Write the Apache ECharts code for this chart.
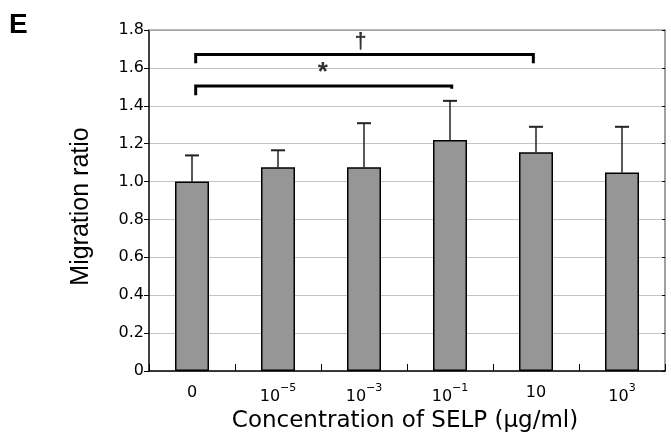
<!DOCTYPE html>
<html><head><meta charset="utf-8">
<script src="https://cdn.jsdelivr.net/npm/echarts@6/dist/echarts.min.js"></script>
<style>html,body{margin:0;padding:0;background:#fff}#c{width:671px;height:434px}</style>
</head><body><div id="c"></div>
<script>
const categories = ['0', '10^-5', '10^-3', '10^-1', '10', '10^3'];
const means = [1.00, 1.075, 1.075, 1.22, 1.155, 1.048];
const errTops = [1.138, 1.165, 1.308, 1.426, 1.289, 1.289];
const yTicks = [0, 0.2, 0.4, 0.6, 0.8, 1.0, 1.2, 1.4, 1.6, 1.8];
// significance brackets (x in category-index units): [fromX, toX, barLevel, leftTickBottom, rightTickBottom, symbol, symbolX]
const brackets = [
  [0.043, 3.969, 1.671, 1.624, 1.624, '\u2020', 1.96],
  [0.043, 3.02, 1.504, 1.456, 1.49, '*', 1.52]
];

const chart = echarts.init(document.getElementById('c'));
const font = '"Liberation Sans", Arial, sans-serif';
const wide = '"DejaVu Sans", sans-serif';

function labelFmt(v) {
  const m = v.match(/^10\^(-?\d+)$/);
  if (m) {
    const e = m[1].replace('-', '\u2212');
    return '{b|10}{s|' + e + '}';
  }
  return '{b|' + v + '}';
}

const bracketSeries = brackets.map(b => ({
  type: 'line',
  xAxisIndex: 1, yAxisIndex: 0,
  symbol: 'none',
  silent: true,
  z: 5,
  lineStyle: { color: '#000', width: 3, join: 'miter', cap: 'butt' },
  data: [[b[0], b[3]], [b[0], b[2]], [b[1], b[2]], [b[1], b[4]]]
}));

const symbolSeries = {
  type: 'scatter',
  xAxisIndex: 1, yAxisIndex: 0,
  symbolSize: 0,
  silent: true,
  z: 6,
  data: brackets.map(b => ({
    value: [b[6], b[2]],
    label: {
      show: true, position: 'top', distance: b[5] === '*' ? 0 : 2,
      formatter: b[5], color: '#000',
      fontSize: b[5] === '*' ? 26 : 22, fontWeight: 'bold', fontFamily: font
    }
  }))
};

const option = {
  animation: false,
  backgroundColor: '#fff',
  graphic: [{
    type: 'text', left: 9, top: 11,
    style: { text: 'E', font: 'bold 28px ' + font, fill: '#000' }
  }],
  grid: { left: 149, top: 30, right: 6, bottom: 63, containLabel: false, outerBoundsMode: 'none' },
  xAxis: [{
    type: 'category',
    data: categories,
    boundaryGap: true,
    axisLine: { onZero: false, lineStyle: { color: '#000', width: 1.5 } },
    axisTick: { show: true, inside: true, length: 7, lineStyle: { color: '#000', width: 1 } },
    axisLabel: {
      margin: 12,
      formatter: labelFmt,
      rich: {
        b: { fontSize: 16, fontFamily: wide, color: '#000', verticalAlign: 'bottom', lineHeight: 18 },
        s: { fontSize: 11, fontFamily: wide, color: '#000', verticalAlign: 'top', lineHeight: 22, padding: [0, 0, 9, 0] }
      }
    },
    name: 'Concentration of SELP (\u03bcg/ml)',
    nameLocation: 'middle',
    nameGap: 31,
    nameTextStyle: { fontSize: 23, fontFamily: wide, color: '#000', verticalAlign: 'top', padding: [0, 4, 0, 0] },
    splitLine: { show: false }
  }, {
    type: 'value',
    position: 'top',
    min: -0.5, max: 5.5,
    axisLine: { show: true, onZero: false, lineStyle: { color: '#a0a0a0', width: 1.5 } },
    axisTick: { show: false },
    axisLabel: { show: false },
    splitLine: { show: false }
  }],
  yAxis: [{
    type: 'value',
    min: 0, max: 1.8, interval: 0.2,
    axisLine: { show: true, onZero: false, lineStyle: { color: '#000', width: 1.5 } },
    axisTick: { show: true, inside: false, length: 5, lineStyle: { color: '#000' } },
    axisLabel: {
      margin: 5,
      fontSize: 16, fontFamily: wide, color: '#000',
      formatter: v => { const t = yTicks.find(x => Math.abs(x - v) < 1e-6); return t === 0 ? '0' : (t !== undefined ? t.toFixed(1) : ''); }
    },
    splitLine: { show: true, lineStyle: { color: '#c4c4c4', width: 1 } },
    name: 'Migration ratio',
    nameLocation: 'middle',
    nameGap: 55,
    nameRotate: 90,
    nameTextStyle: { fontSize: 25, fontFamily: font, color: '#000', padding: [0, 12, 0, 0] }
  }, {
    type: 'value',
    position: 'right',
    min: 0, max: 1.8, interval: 0.2,
    axisLine: { show: true, onZero: false, lineStyle: { color: '#a0a0a0', width: 2 } },
    axisTick: { show: true, inside: true, length: 3, lineStyle: { color: '#000' } },
    axisLabel: { show: false },
    splitLine: { show: false }
  }],
  series: [{
    type: 'bar',
    data: means,
    barWidth: 34,
    itemStyle: { color: '#969696', borderColor: '#000', borderWidth: 1.5 },
    z: 3
  }, {
    type: 'custom',
    z: 2,
    data: errTops.map((t, i) => [i, means[i], t]),
    renderItem: function (params, api) {
      const base = api.coord([api.value(0), api.value(1)]);
      const top = api.coord([api.value(0), api.value(2)]);
      const hw = 7;
      return {
        type: 'group',
        children: [{
          type: 'line',
          shape: { x1: base[0], y1: base[1], x2: top[0], y2: top[1] },
          style: { stroke: '#222', lineWidth: 1.5 }
        }, {
          type: 'line',
          shape: { x1: top[0] - hw, y1: top[1], x2: top[0] + hw, y2: top[1] },
          style: { stroke: '#222', lineWidth: 2 }
        }]
      };
    }
  }, ...bracketSeries, symbolSeries]
};
chart.setOption(option);
</script>
</body></html>
